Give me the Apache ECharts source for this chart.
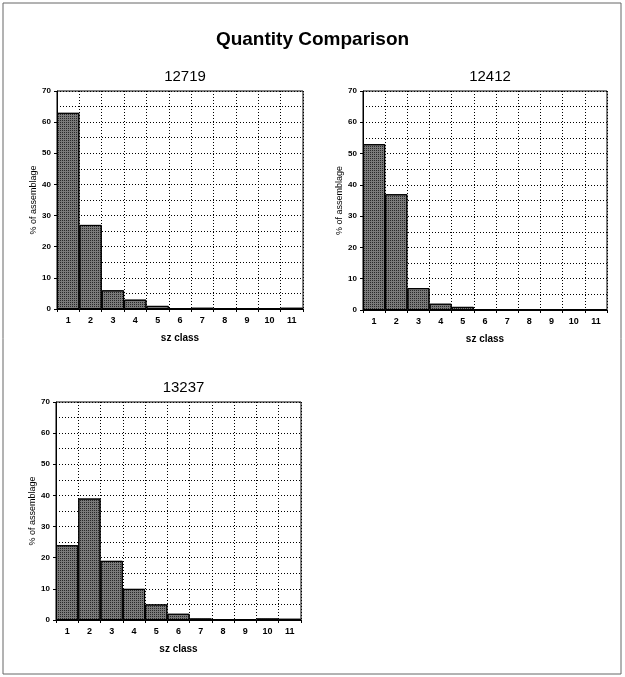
<!DOCTYPE html>
<html>
<head>
<meta charset="utf-8">
<script src="https://cdn.jsdelivr.net/npm/echarts@6/dist/echarts.min.js"></script>
<style>
  html, body { margin: 0; padding: 0; background: #fff; }
  #main { width: 625px; height: 677px; }
</style>
</head>
<body>
<div id="main"></div>
<script>
// size classes on the x axis
var classes = ['1', '2', '3', '4', '5', '6', '7', '8', '9', '10', '11'];
// % of assemblage per size class
var s12719 = [63, 27, 6, 3, 1, 0.3, 0.4, 0.2, 0.2, 0.3, 0.4];
var s12412 = [53, 37, 7, 2, 1, 0.3, 0.1, 0.1, 0.1, 0.2, 0.1];
var s13237 = [24, 39, 19, 10, 5, 2, 0.5, 0.3, 0.3, 0.5, 0.4];
var panelNames = ['12719', '12412', '13237'];

var myChart = echarts.init(document.getElementById('main'));

var font = 'Liberation Sans, Arial, sans-serif';
// plot areas, in pixels
var boxes = [
    { left: 57, top: 91, width: 246, height: 218 },
    { left: 363, top: 91, width: 244, height: 219 },
    { left: 56, top: 402, width: 245, height: 218 }
];
var allData = [s12719, s12412, s13237];

var grids = [], xAxes = [], yAxes = [], series = [], titles = [];

titles.push({
    text: 'Quantity Comparison',
    left: 'center',
    top: 25,
    textStyle: { fontFamily: font, fontSize: 19, fontWeight: 'bold', color: '#000' }
});

for (var i = 0; i < boxes.length; i++) {
    var b = boxes[i];
    grids.push({
        left: b.left, top: b.top, width: b.width, height: b.height,
        show: true, borderColor: '#000', borderWidth: 1, backgroundColor: '#fff'
    });
    titles.push({
        text: panelNames[i],
        left: b.left + b.width / 2,
        textAlign: 'center',
        top: b.top - 27,
        textStyle: { fontFamily: font, fontSize: 15, fontWeight: 'normal', color: '#000' }
    });
    xAxes.push({
        type: 'category',
        gridIndex: i,
        data: classes,
        name: 'sz class',
        nameLocation: 'middle',
        nameGap: 24,
        nameTextStyle: { fontFamily: font, fontSize: 10, color: '#000', fontWeight: 'bold' },
        axisLine: { lineStyle: { color: '#000', width: 1 } },
        axisTick: { show: true, length: 3, lineStyle: { color: '#000' } },
        axisLabel: { fontFamily: font, fontSize: 9, color: '#000', fontWeight: 'bold', margin: 7 },
        splitLine: { show: true, lineStyle: { color: '#000', type: [1, 2], width: 1 } }
    });
    yAxes.push({
        type: 'value',
        gridIndex: i,
        min: 0,
        max: 70,
        interval: 10,
        name: '% of assemblage',
        nameLocation: 'middle',
        nameGap: 19,
        nameTextStyle: { fontFamily: font, fontSize: 9, color: '#000' },
        axisLine: { show: true, lineStyle: { color: '#000', width: 1 } },
        axisTick: { show: true, length: 3, lineStyle: { color: '#000' } },
        axisLabel: { fontFamily: font, fontSize: 8, color: '#000', fontWeight: 'bold', margin: 6 },
        splitLine: { show: true, lineStyle: { color: '#000', type: [1, 2], width: 1 } },
        minorTick: { show: false, splitNumber: 2 },
        minorSplitLine: { show: true, lineStyle: { color: '#000', type: [1, 2], width: 1 } }
    });
    series.push({
        type: 'bar',
        xAxisIndex: i,
        yAxisIndex: i,
        data: allData[i],
        barCategoryGap: '0%',
        itemStyle: {
            color: '#7a7a7a',
            borderColor: '#000',
            borderWidth: 1,
            decal: {
                symbol: 'rect',
                symbolSize: 1,
                dashArrayX: [1, 1],
                dashArrayY: [1, 1],
                rotation: 0,
                color: 'rgba(20,20,20,0.8)'
            }
        },
        silent: true,
        animation: false
    });
}

var option = {
    backgroundColor: '#fff',
    animation: false,
    title: titles,
    grid: grids,
    xAxis: xAxes,
    yAxis: yAxes,
    series: series,
    graphic: [{
        type: 'rect',
        shape: { x: 3, y: 3, width: 618, height: 671 },
        style: { fill: 'none', stroke: '#666', lineWidth: 1 },
        silent: true
    }]
};

myChart.setOption(option);
window.addEventListener('resize', function () {
    myChart.resize();
});
</script>
</body>
</html>
